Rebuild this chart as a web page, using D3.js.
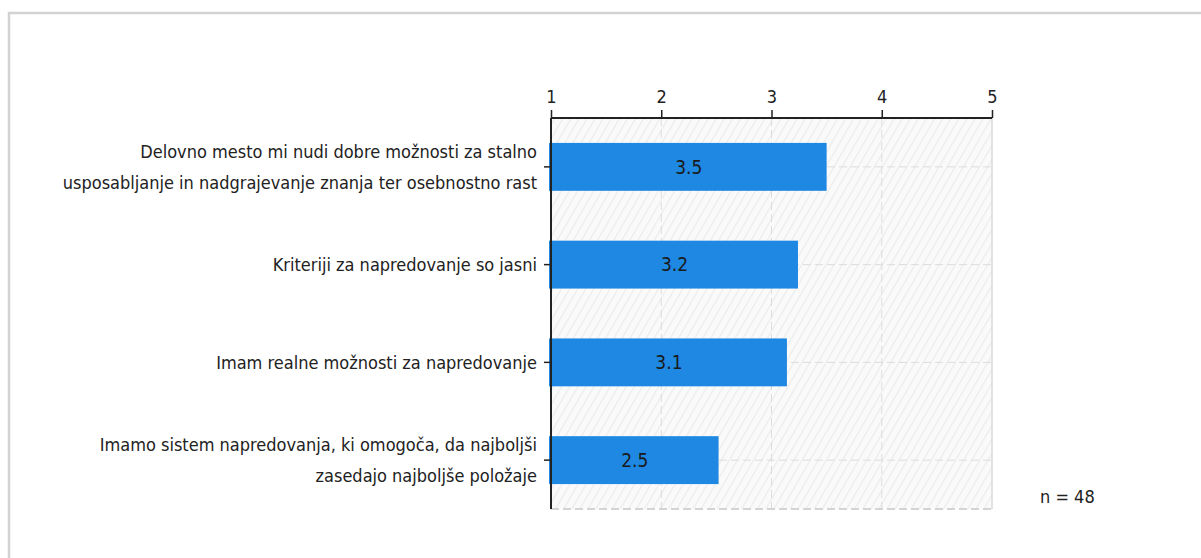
<!DOCTYPE html>
<html>
<head>
<meta charset="utf-8">
<title>Napredovanje</title>
<style>
body {
    margin: 0px;
    overflow: hidden;
    background: #fff;
}
text {
    font-family: "DejaVu Sans", sans-serif;
    font-stretch: condensed;
}
</style>
<script src="https://cdnjs.cloudflare.com/ajax/libs/d3/7.8.5/d3.min.js"></script>
</head>
<body>
<div id="chart"></div>
<script>
var categories = [
    ["Delovno mesto mi nudi dobre možnosti za stalno", "usposabljanje in nadgrajevanje znanja ter osebnostno rast"],
    ["Kriteriji za napredovanje so jasni"],
    ["Imam realne možnosti za napredovanje"],
    ["Imamo sistem napredovanja, ki omogoča, da najboljši", "zasedajo najboljše položaje"]
];
// means; labels show one decimal
var values = [3.5, 3.24, 3.14, 2.52];
var ticks = [1, 2, 3, 4, 5];
var note = "n = 48";

(function () {
    var width = 1201, height = 558;
    var pLeft = 551, pRight = 992, pTop = 118, pBottom = 509;

    var svg = d3.select("#chart").append("svg")
        .attr("width", width)
        .attr("height", height);

    // frame
    svg.append("path")
        .attr("d", "M9,558V13H1201")
        .attr("fill", "none")
        .attr("stroke", "#d2d2d2")
        .attr("stroke-width", 2.5);

    var defs = svg.append("defs");
    var pat = defs.append("pattern")
        .attr("id", "hatch")
        .attr("patternUnits", "userSpaceOnUse")
        .attr("width", 7)
        .attr("height", 7)
        .attr("patternTransform", "rotate(30)");
    pat.append("rect").attr("width", 7).attr("height", 7).attr("fill", "#fafafa");
    pat.append("line").attr("x1", 0).attr("y1", 0).attr("x2", 0).attr("y2", 7)
        .attr("stroke", "#ececec").attr("stroke-width", 2.5);

    var x = d3.scaleLinear().domain([1, 5]).range([pLeft, pRight]);
    var y = d3.scaleBand().domain(d3.range(categories.length)).range([pTop, pBottom]).paddingInner(0.51).paddingOuter(0.255);
    var yc = d3.scaleBand().domain(d3.range(categories.length)).range([pTop, pBottom]);

    svg.append("rect")
        .attr("x", pLeft).attr("y", pTop)
        .attr("width", pRight - pLeft).attr("height", pBottom - pTop)
        .attr("fill", "url(#hatch)");

    // grid
    svg.selectAll(".vgrid").data(ticks.slice(1, -1)).enter().append("line")
        .attr("x1", d => x(d)).attr("x2", d => x(d))
        .attr("y1", pTop).attr("y2", pBottom)
        .attr("stroke", "#dcdcdc").attr("stroke-dasharray", "8,4");
    svg.selectAll(".hgrid").data(d3.range(categories.length)).enter().append("line")
        .attr("x1", pLeft).attr("x2", pRight)
        .attr("y1", d => yc(d) + yc.bandwidth() / 2).attr("y2", d => yc(d) + yc.bandwidth() / 2)
        .attr("stroke", "#dcdcdc").attr("stroke-dasharray", "8,4");
    svg.append("line")
        .attr("x1", pLeft).attr("x2", pRight).attr("y1", pBottom).attr("y2", pBottom)
        .attr("stroke", "#d4d4d4").attr("stroke-width", 2).attr("stroke-dasharray", "8,4");
    svg.append("line")
        .attr("x1", pRight).attr("x2", pRight).attr("y1", pTop).attr("y2", pBottom)
        .attr("stroke", "#dadada").attr("stroke-width", 1.5);

    // bars
    svg.selectAll(".bar").data(values).enter().append("rect")
        .attr("x", pLeft - 2)
        .attr("y", (d, i) => y(i))
        .attr("width", d => x(d) - pLeft + 2)
        .attr("height", y.bandwidth())
        .attr("fill", "#1e88e2");

    svg.selectAll(".val").data(values).enter().append("text")
        .attr("x", d => (pLeft + x(d)) / 2)
        .attr("y", (d, i) => y(i) + y.bandwidth() / 2)
        .attr("dy", "0.36em")
        .attr("text-anchor", "middle")
        .attr("font-size", 19)
        .attr("fill", "#1a1a1a")
        .text(d => d.toFixed(1));

    // top axis
    var xAxis = svg.append("g")
        .attr("transform", "translate(0," + pTop + ")")
        .call(d3.axisTop(x).tickValues(ticks).tickFormat(d3.format("d")).tickSize(8).tickPadding(7));
    xAxis.select(".domain").attr("stroke", "#222").attr("stroke-width", 2).attr("d", "M" + pLeft + ",0H" + pRight);
    xAxis.selectAll(".tick line").attr("stroke", "#222").attr("stroke-width", 1.5);
    xAxis.selectAll(".tick text").attr("font-size", 18).attr("fill", "#222")
        .attr("font-family", "'DejaVu Sans', sans-serif");

    // left axis
    svg.append("line")
        .attr("x1", pLeft).attr("x2", pLeft).attr("y1", pTop).attr("y2", pBottom)
        .attr("stroke", "#222").attr("stroke-width", 2);
    svg.selectAll(".ytick").data(d3.range(categories.length)).enter().append("line")
        .attr("x1", pLeft - 7).attr("x2", pLeft)
        .attr("y1", d => yc(d) + yc.bandwidth() / 2).attr("y2", d => yc(d) + yc.bandwidth() / 2)
        .attr("stroke", "#222").attr("stroke-width", 1.5);

    var lineH = 31;
    svg.selectAll(".cat").data(categories).enter().append("text")
        .attr("text-anchor", "end")
        .attr("font-size", 18)
        .attr("fill", "#222")
        .each(function (lines, i) {
            var cy = yc(i) + yc.bandwidth() / 2 - (lines.length - 1) * lineH / 2;
            d3.select(this).selectAll("tspan").data(lines).enter().append("tspan")
                .attr("x", 537)
                .attr("y", (d, j) => cy + j * lineH)
                .attr("dy", "0.36em")
                .text(d => d);
        });

    svg.append("text")
        .attr("x", 1040).attr("y", 497)
        .attr("dy", "0.36em")
        .attr("font-size", 18)
        .attr("fill", "#222")
        .text(note);
})();
</script>
</body>
</html>
